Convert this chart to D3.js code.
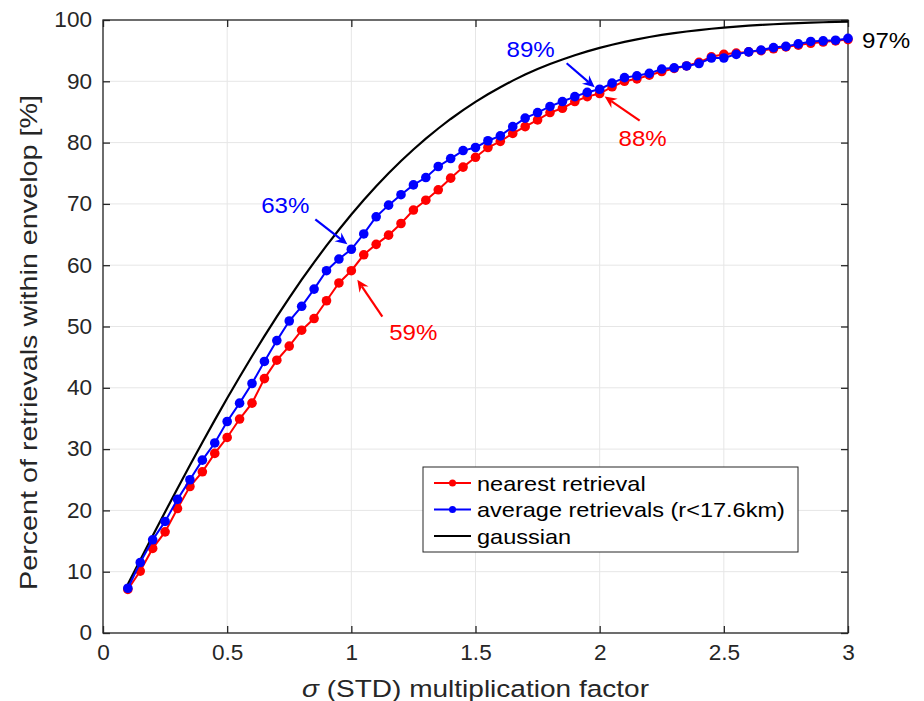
<!DOCTYPE html>
<html><head><meta charset="utf-8">
<script src="https://cdn.jsdelivr.net/npm/d3@7"></script>
<style>body{margin:0;background:#fff}svg{display:block}text{font-family:"Liberation Sans",Arial,Helvetica,sans-serif}</style>
</head><body><svg id="c" width="924" height="701"></svg>
<script>
const xs = [0.10,0.15,0.20,0.25,0.30,0.35,0.40,0.45,0.50,0.55,0.60,0.65,0.70,0.75,0.80,0.85,0.90,0.95,1.00,1.05,1.10,1.15,1.20,1.25,1.30,1.35,1.40,1.45,1.50,1.55,1.60,1.65,1.70,1.75,1.80,1.85,1.90,1.95,2.00,2.05,2.10,2.15,2.20,2.25,2.30,2.35,2.40,2.45,2.50,2.55,2.60,2.65,2.70,2.75,2.80,2.85,2.90,2.95,3.00];
const nearest = [7.1,10.1,13.8,16.5,20.3,23.9,26.3,29.3,31.9,34.9,37.5,41.5,44.5,46.8,49.4,51.3,54.2,57.1,59.1,61.7,63.4,64.9,66.8,69.0,70.6,72.3,74.2,76.0,77.6,79.2,80.2,81.5,82.6,83.7,84.9,85.6,86.7,87.5,88.0,89.1,90.0,90.4,91.0,91.6,92.1,92.5,93.1,94.0,94.4,94.6,94.8,95.0,95.3,95.6,95.9,96.2,96.4,96.6,96.8];
const average = [7.3,11.5,15.2,18.2,21.8,25.0,28.2,31.0,34.5,37.5,40.7,44.3,47.7,50.9,53.3,56.1,59.1,61.0,62.6,65.1,67.9,69.8,71.5,73.1,74.3,76.1,77.4,78.7,79.2,80.3,81.1,82.6,84.0,84.9,85.9,86.7,87.5,88.2,88.7,89.7,90.6,90.9,91.3,92.0,92.2,92.5,92.9,93.8,93.8,94.4,94.8,95.1,95.5,95.7,96.1,96.5,96.6,96.7,97.0];
const gaussian = [7.97,11.92,15.85,19.74,23.58,27.37,31.08,34.73,38.29,41.76,45.15,48.43,51.61,54.67,57.63,60.47,63.19,65.79,68.27,70.63,72.87,74.99,76.99,78.87,80.64,82.30,83.85,85.29,86.64,87.89,89.04,90.11,91.09,91.99,92.81,93.57,94.26,94.88,95.45,95.96,96.43,96.84,97.22,97.56,97.86,98.12,98.36,98.57,98.76,98.92,99.07,99.20,99.31,99.40,99.49,99.56,99.63,99.68,99.73];
const xTicks = [0,0.5,1,1.5,2,2.5,3];
const xTickLabels = ["0","0.5","1","1.5","2","2.5","3"];
const yTicks = [0,10,20,30,40,50,60,70,80,90,100];
const seriesNames = ["nearest retrieval","average retrievals (r<17.6km)","gaussian"];
const seriesColors = ["#ff0000","#0000ff","#000000"];
const annLabels = ["63%","59%","89%","88%","97%"];
const annX = [1,1,2,2,3];
const annSeries = ["average","nearest","average","nearest","none"];

const svg = d3.select("#c");
svg.append("rect").attr("width",924).attr("height",701).attr("fill","#fff");
const L=103,R=848,T=20,B=633;
const x = d3.scaleLinear().domain([0,3]).range([L,R]);
const y = d3.scaleLinear().domain([0,100]).range([B,T]);
const axisCol="#262626";
function stretch(sel,f){sel.each(function(){const w=this.getComputedTextLength();d3.select(this).attr("textLength",w*f).attr("lengthAdjust","spacingAndGlyphs");});}

// grid
const g = svg.append("g");
g.selectAll(".gx").data(xTicks).join("line").attr("x1",d=>x(d)).attr("x2",d=>x(d)).attr("y1",T).attr("y2",B).attr("stroke","#e6e6e6").attr("stroke-width",1);
g.selectAll(".gy").data(yTicks).join("line").attr("y1",d=>y(d)).attr("y2",d=>y(d)).attr("x1",L).attr("x2",R).attr("stroke","#e6e6e6").attr("stroke-width",1);

// axes
const tl=7;
const ax = svg.append("g").attr("transform",`translate(0,${B})`).call(d3.axisBottom(x).tickValues(xTicks).tickFormat((d,i)=>xTickLabels[i]).tickSizeInner(-tl).tickSizeOuter(0).tickPadding(12));
const ay = svg.append("g").attr("transform",`translate(${L},0)`).call(d3.axisLeft(y).tickValues(yTicks).tickSizeInner(-tl).tickSizeOuter(0).tickPadding(11));
const axT = svg.append("g").attr("transform",`translate(0,${T})`).call(d3.axisTop(x).tickValues(xTicks).tickFormat("").tickSizeInner(-tl).tickSizeOuter(0));
const ayR = svg.append("g").attr("transform",`translate(${R},0)`).call(d3.axisRight(y).tickValues(yTicks).tickFormat("").tickSizeInner(-tl).tickSizeOuter(0));
[ax,ay,axT,ayR].forEach(a=>{a.select(".domain").remove();a.selectAll("line").attr("stroke",axisCol).attr("stroke-width",1.3);a.selectAll("text").attr("fill",axisCol).attr("font-size",21.5).attr("font-family","Liberation Sans, Arial, sans-serif");});
stretch(ax.selectAll("text"),1.05);stretch(ay.selectAll("text"),1.05);
svg.append("rect").attr("x",L).attr("y",T).attr("width",R-L).attr("height",B-T).attr("fill","none").attr("stroke",axisCol).attr("stroke-width",1.3);

// labels
const xl = svg.append("text").attr("x",(L+R)/2).attr("y",697).attr("text-anchor","middle").attr("font-size",24.5).attr("fill",axisCol)
  .html('<tspan font-style="italic">σ</tspan> (STD) multiplication factor');
xl.attr("textLength",347).attr("lengthAdjust","spacingAndGlyphs");
svg.append("text").attr("transform",`translate(37,${(T+B)/2+16}) rotate(-90)`).attr("text-anchor","middle").attr("font-size",24.5).attr("fill",axisCol).attr("textLength",495).attr("lengthAdjust","spacingAndGlyphs").text("Percent of retrievals within envelop [%]");

// series
const line = d3.line().x(d=>x(d[0])).y(d=>y(d[1]));
const toPts = arr => xs.map((v,i)=>[v,arr[i]]);
const data = [toPts(nearest),toPts(average),toPts(gaussian)];
const pg = svg.append("g");
pg.append("path").datum(data[2]).attr("d",line).attr("fill","none").attr("stroke","#000").attr("stroke-width",2.2);
[0,1].forEach(k=>{
  pg.append("path").datum(data[k]).attr("d",line).attr("fill","none").attr("stroke",seriesColors[k]).attr("stroke-width",2);
  pg.selectAll(null).data(data[k]).join("circle").attr("cx",d=>x(d[0])).attr("cy",d=>y(d[1])).attr("r",4.8).attr("fill",seriesColors[k]);
});

// legend
const lg = svg.append("g");
lg.append("rect").attr("x",423).attr("y",467).attr("width",375).attr("height",85).attr("fill","#fff").attr("stroke",axisCol).attr("stroke-width",1);
seriesNames.forEach((n,i)=>{
  const yy = 483+i*26.5;
  lg.append("line").attr("x1",434).attr("x2",471).attr("y1",yy).attr("y2",yy).attr("stroke",seriesColors[i]).attr("stroke-width",2);
  if(i<2) lg.append("circle").attr("cx",452.5).attr("cy",yy).attr("r",3.5).attr("fill",seriesColors[i]);
  const t = lg.append("text").attr("x",477).attr("y",yy+7.5).attr("font-size",21).attr("fill","#000").text(n);
  stretch(t,1.12);
});

// annotations
function arrow(x1,y1,x2,y2,col){
  const ang=Math.atan2(y2-y1,x2-x1);
  const hl=12, hw=5.5, back=8;
  const ca=Math.cos(ang), sa=Math.sin(ang);
  const bx=x2-hl*ca, by=y2-hl*sa;
  const nx=x2-back*ca, ny=y2-back*sa;
  svg.append("line").attr("x1",x1).attr("y1",y1).attr("x2",nx).attr("y2",ny).attr("stroke",col).attr("stroke-width",2.2);
  svg.append("path").attr("d",`M${x2},${y2}L${bx-hw*sa},${by+hw*ca}L${nx},${ny}L${bx+hw*sa},${by-hw*ca}Z`).attr("fill",col);
}
const seriesVal = (s,xv)=>{const i=xs.findIndex(v=>Math.abs(v-xv)<1e-9);return s==="average"?average[i]:nearest[i];};
// label offsets (pixels) relative to target point
const annText = [[-66,-36],[62,69],[-69,-32],[43,52],[14,10]];
const annTail = [[-36,-30],[31,46],[-33,-26],[40,27],[0,0]];
const annTip = [[-4,-5],[6,9],[-5,-2],[5,3],[0,0]];
const annCol = ["#0000ff","#ff0000","#0000ff","#ff0000","#000000"];
annLabels.forEach((t,i)=>{
  let px=x(annX[i]), py;
  if(annSeries[i]==="none") py=y(average[average.length-1]); else py=y(seriesVal(annSeries[i],annX[i]));
  const tt = svg.append("text").attr("x",px+annText[i][0]).attr("y",py+annText[i][1]).attr("text-anchor",i===4?"start":"middle").attr("font-size",22.5).attr("fill",annCol[i]).text(t);
  stretch(tt,1.07);
  if(annSeries[i]!=="none") arrow(px+annTail[i][0],py+annTail[i][1],px+annTip[i][0],py+annTip[i][1],annCol[i]);
});
</script></body></html>
